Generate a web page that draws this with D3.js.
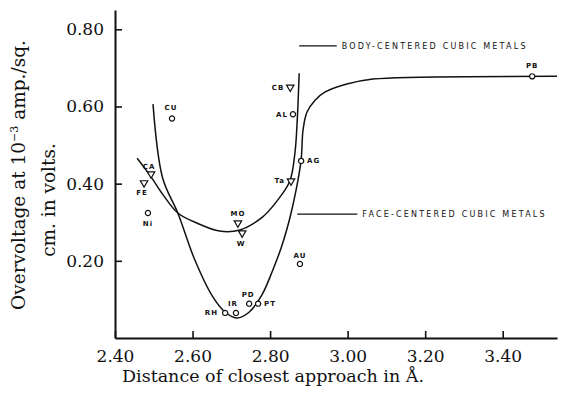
<!DOCTYPE html>
<html>
<head>
<meta charset="utf-8">
<script src="https://cdn.jsdelivr.net/npm/d3@7"></script>
<style>
  body { margin: 0; background: #fff; }
  text { fill: #111; }
</style>
</head>
<body>
<div id="chart"></div>
<script>
// metals
var metals = ["PB", "CU", "CB", "AL", "AG", "Ta", "CA", "FE", "Ni", "MO", "W", "AU", "PD", "PT", "IR", "RH"]
var distance = [3.476, 2.547, 2.852, 2.859, 2.880, 2.854, 2.493, 2.475, 2.485, 2.717, 2.728, 2.877, 2.746, 2.769, 2.712, 2.684]
var overvoltage = [0.678, 0.569, 0.650, 0.580, 0.459, 0.407, 0.425, 0.402, 0.324, 0.298, 0.272, 0.192, 0.089, 0.089, 0.065, 0.065]
// "c" = circle, "t" = triangle
var marker = ["c", "c", "t", "c", "c", "t", "t", "t", "c", "t", "t", "c", "c", "c", "c", "c"]

// hand-drawn curves (distance, overvoltage)
var fccCurve = [[2.498, 0.606], [2.523, 0.414], [2.562, 0.324], [2.606, 0.202], [2.652, 0.107],
  [2.683, 0.068], [2.714, 0.052], [2.745, 0.066], [2.779, 0.112], [2.805, 0.171], [2.831, 0.241],
  [2.851, 0.311], [2.867, 0.383], [2.880, 0.461], [2.885, 0.539], [2.895, 0.585], [2.916, 0.616],
  [2.941, 0.637], [2.998, 0.658], [3.065, 0.671], [3.186, 0.676], [3.540, 0.678]]
var bccCurve = [[2.457, 0.466], [2.490, 0.422], [2.524, 0.371], [2.562, 0.324], [2.611, 0.298],
  [2.670, 0.277], [2.722, 0.280], [2.781, 0.314], [2.820, 0.358], [2.851, 0.407], [2.864, 0.479],
  [2.870, 0.564], [2.875, 0.686]]

var xTicks = [2.40, 2.60, 2.80, 3.00, 3.20, 3.40]
var yTicks = [0.20, 0.40, 0.60, 0.80]

// label placement around each point (dx, dy, anchor)
var labelPos = {
  PB: [0, -8, "middle"], CU: [-1, -8, "middle"], CB: [-6, 2.5, "end"], AL: [-5, 2.5, "end"],
  AG: [6, 2.5, "start"], Ta: [-6, 2.5, "end"], CA: [-2, -5, "middle"], FE: [-2, 12, "middle"],
  Ni: [0, 13, "middle"], MO: [0, -7, "middle"], W: [-1, 13, "middle"], AU: [0, -6, "middle"],
  PD: [-1, -7, "middle"], PT: [6, 2.5, "start"], IR: [-3, -7, "middle"], RH: [-7, 2.5, "end"]
}

var margin = {top: 10, right: 20, bottom: 62, left: 115}
var width = 577 - margin.left - margin.right
var height = 400 - margin.top - margin.bottom

var svg = d3.select("#chart")
    .append("svg")
    .attr("width", 577)
    .attr("height", 400)

var g = svg.append("g")
    .attr("transform", "translate(" + margin.left + "," + margin.top + ")")

var x = d3.scaleLinear().domain([2.40, 3.54]).range([0, width])
var y = d3.scaleLinear().domain([0, 0.85]).range([height, 0])

// axes, ticks pointing inward
var xAxis = g.append("g")
    .attr("transform", "translate(0," + height + ")")
    .call(d3.axisBottom(x).tickValues(xTicks).tickFormat(d3.format(".2f"))
        .tickSizeInner(-7).tickSizeOuter(0).tickPadding(12))
var yAxis = g.append("g")
    .call(d3.axisLeft(y).tickValues(yTicks).tickFormat(d3.format(".2f"))
        .tickSizeInner(-7).tickSizeOuter(0).tickPadding(11))

g.selectAll(".domain").attr("stroke", "#111").attr("stroke-width", 2)
g.selectAll(".tick line").attr("stroke", "#111").attr("stroke-width", 1.6)
g.selectAll(".tick text")
    .style("font-family", "DejaVu Serif")
    .style("font-size", "17px")
    .attr("fill", "#111")

// curves
var line = d3.line()
    .x(function(d) { return x(d[0]) })
    .y(function(d) { return y(d[1]) })
    .curve(d3.curveCatmullRom.alpha(0.5))

g.append("path").datum(fccCurve).attr("d", line)
    .attr("fill", "none").attr("stroke", "#111").attr("stroke-width", 1.5)
g.append("path").datum(bccCurve).attr("d", line)
    .attr("fill", "none").attr("stroke", "#111").attr("stroke-width", 1.5)

// points
var pts = g.append("g").selectAll("g")
    .data(metals)
    .enter()
    .append("g")
    .attr("transform", function(d, i) { return "translate(" + x(distance[i]) + "," + y(overvoltage[i]) + ")" })

pts.filter(function(d, i) { return marker[i] == "c" })
    .append("circle")
    .attr("r", 2.6)
    .attr("fill", "#fff")
    .attr("stroke", "#111")
    .attr("stroke-width", 1.2)

pts.filter(function(d, i) { return marker[i] == "t" })
    .append("path")
    .attr("d", d3.symbol(d3.symbolTriangle, 24))
    .attr("transform", "rotate(180)")
    .attr("fill", "#fff")
    .attr("stroke", "#111")
    .attr("stroke-width", 1.2)

pts.append("text")
    .text(function(d) { return d })
    .attr("x", function(d) { return labelPos[d][0] })
    .attr("y", function(d) { return labelPos[d][1] })
    .attr("text-anchor", function(d) { return labelPos[d][2] })
    .style("font-family", "DejaVu Sans")
    .style("font-size", "7px")
    .style("font-weight", "bold")
    .style("letter-spacing", "1px")

// legend leaders
var legend = [
  {name: "BODY-CENTERED CUBIC METALS", x0: 2.875, x1: 2.972, v: 0.757},
  {name: "FACE-CENTERED CUBIC METALS", x0: 2.870, x1: 3.025, v: 0.321}
]
legend.forEach(function(l) {
  g.append("line")
      .attr("x1", x(l.x0)).attr("x2", x(l.x1))
      .attr("y1", y(l.v)).attr("y2", y(l.v))
      .attr("stroke", "#111").attr("stroke-width", 1.3)
  g.append("text")
      .attr("x", x(l.x1) + 5)
      .attr("y", y(l.v) + 3)
      .text(l.name)
      .style("font-family", "DejaVu Sans")
      .style("font-size", "8px")
      .style("letter-spacing", "2.2px")
})

// axis titles
svg.append("text")
    .attr("x", 273)
    .attr("y", 382)
    .attr("text-anchor", "middle")
    .style("font-family", "DejaVu Serif")
    .style("font-size", "17.5px")
    .text("Distance of closest approach in Å.")

var yt = svg.append("text")
    .attr("transform", "translate(25,175) rotate(-90)")
    .attr("text-anchor", "middle")
    .style("font-family", "DejaVu Serif")
    .style("font-size", "18.5px")
yt.append("tspan").text("Overvoltage at 10")
yt.append("tspan").text("−3").attr("dy", -7).style("font-size", "11px")
yt.append("tspan").text(" amp./sq.").attr("dy", 7)

svg.append("text")
    .attr("transform", "translate(55,200) rotate(-90)")
    .attr("text-anchor", "middle")
    .style("font-family", "DejaVu Serif")
    .style("font-size", "18.5px")
    .text("cm. in volts.")
</script>
</body>
</html>
